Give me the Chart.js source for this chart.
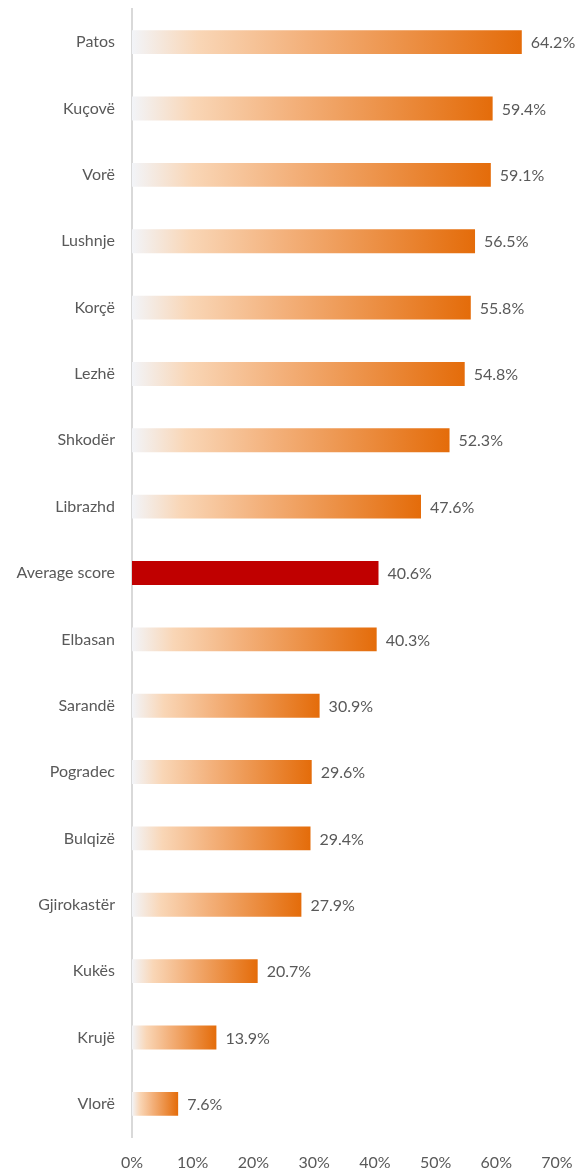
<!DOCTYPE html>
<html>
<head>
<meta charset="utf-8">
<script src="https://cdn.jsdelivr.net/npm/chart.js@4"></script>
<style>
  html, body { margin: 0; padding: 0; background: #fff; }
  #wrap { width: 579px; height: 1168px; position: relative; }
</style>
</head>
<body>
<div id="wrap"><canvas id="chart"></canvas></div>
<script>
// Categories and values
const cities = ["Patos", "Kuçovë", "Vorë", "Lushnje", "Korçë", "Lezhë", "Shkodër", "Librazhd",
    "Average score", "Elbasan", "Sarandë", "Pogradec", "Bulqizë", "Gjirokastër", "Kukës", "Krujë", "Vlorë"];
const scores = [64.2, 59.4, 59.1, 56.5, 55.8, 54.8, 52.3, 47.6, 40.6, 40.3, 30.9, 29.6, 29.4, 27.9, 20.7, 13.9, 7.6];
const averageLabel = "Average score";
const axisMax = 70;
const axisStep = 10;

const textColor = "#595959";
const fontFamily = "Lato, 'Open Sans', sans-serif";

// Gradient per bar, running from the bar's own start to its end
function barFill(ctx) {
    const chart = ctx.chart;
    if (ctx.type !== "data") return "#E46C0A";
    if (cities[ctx.dataIndex] === averageLabel) return "#C00000";
    const xs = chart.scales.x;
    if (!xs || !chart.chartArea) return "#E46C0A";
    const x0 = xs.getPixelForValue(0);
    const x1 = xs.getPixelForValue(ctx.parsed.x);
    if (!isFinite(x0) || !isFinite(x1) || x1 <= x0) return "#E46C0A";
    const g = chart.ctx.createLinearGradient(x0, 0, x1, 0);
    g.addColorStop(0, "#F2F4F8");
    g.addColorStop(0.17, "#F9D6B6");
    g.addColorStop(0.45, "#F3B07A");
    g.addColorStop(1, "#E46C0A");
    return g;
}

// Value labels at the end of each bar
const valueLabels = {
    id: "valueLabels",
    afterDatasetsDraw(chart) {
        const ctx = chart.ctx;
        const meta = chart.getDatasetMeta(0);
        ctx.save();
        ctx.font = "16px " + fontFamily;
        ctx.fillStyle = textColor;
        ctx.textAlign = "left";
        ctx.textBaseline = "middle";
        meta.data.forEach((bar, i) => {
            ctx.fillText(scores[i].toFixed(1) + "%", bar.x + 9, bar.y + 1);
        });
        ctx.restore();
    }
};

new Chart(document.getElementById("chart"), {
    type: "bar",
    data: {
        labels: cities,
        datasets: [{
            data: scores,
            backgroundColor: barFill,
            borderWidth: 0,
            barPercentage: 0.36,
            categoryPercentage: 1.0,
        }],
    },
    options: {
        indexAxis: "y",
        responsive: true,
        maintainAspectRatio: false,
        animation: false,
        layout: { padding: { top: 9, right: 22, bottom: 0, left: 0 } },
        plugins: {
            legend: { display: false },
            tooltip: { enabled: false },
        },
        scales: {
            x: {
                min: 0,
                max: axisMax,
                grid: { display: false, drawTicks: false },
                border: { display: false },
                ticks: {
                    stepSize: axisStep,
                    padding: 16,
                    color: textColor,
                    font: { family: fontFamily, size: 16 },
                    callback: (v) => v + "%",
                },
                afterFit: (s) => { s.height = 31; s.paddingLeft = 0; s.paddingRight = 0; },
            },
            y: {
                grid: { display: false, drawTicks: false },
                border: { display: true, color: "#D9D9D9", width: 2 },
                ticks: {
                    padding: 17,
                    color: textColor,
                    font: { family: fontFamily, size: 16 },
                },
                afterFit: (s) => { s.width = 132; s.paddingTop = 0; s.paddingBottom = 0; },
            },
        },
    },
    plugins: [valueLabels],
});
</script>
</body>
</html>
